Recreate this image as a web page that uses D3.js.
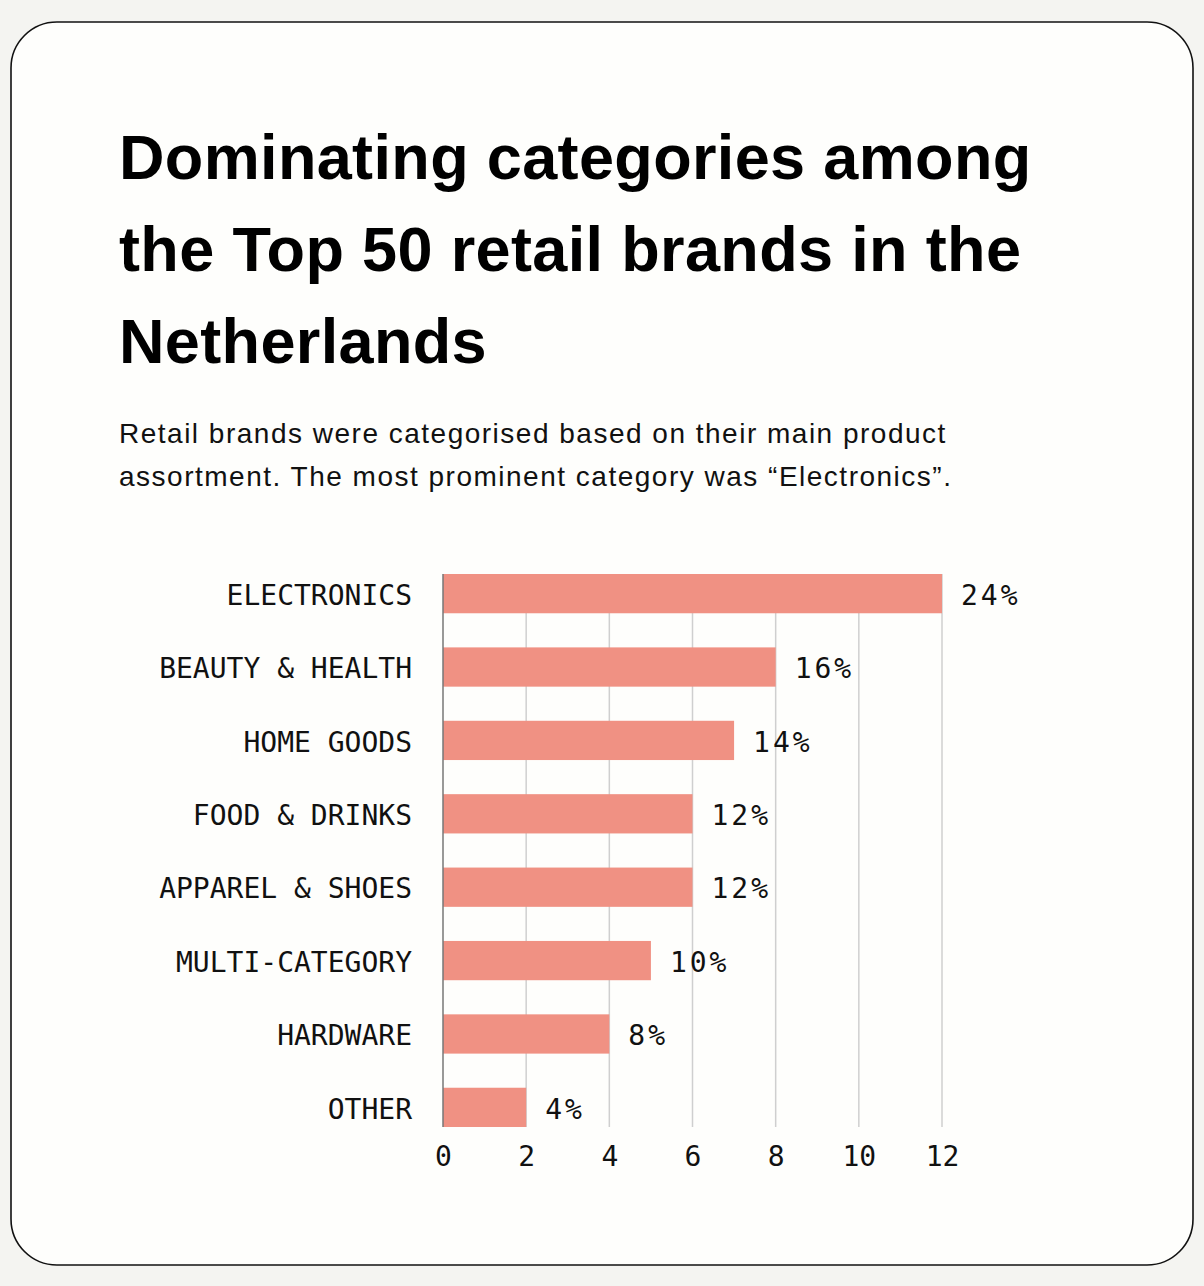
<!DOCTYPE html>
<html>
<head>
<meta charset="utf-8">
<script src="https://cdn.jsdelivr.net/npm/d3@7"></script>
<style>
  body { margin: 0; background: #f4f4f1; }
  svg { display: block; }
</style>
</head>
<body>
<script>
// data
var categories = ['ELECTRONICS', 'BEAUTY & HEALTH', 'HOME GOODS', 'FOOD & DRINKS',
                  'APPAREL & SHOES', 'MULTI-CATEGORY', 'HARDWARE', 'OTHER'];
var counts = [12, 8, 7, 6, 6, 5, 4, 2];
var shares = ['24%', '16%', '14%', '12%', '12%', '10%', '8%', '4%'];
var ticks = [0, 2, 4, 6, 8, 10, 12];

var titleLines = ['Dominating categories among', 'the Top 50 retail brands in the', 'Netherlands'];
var subtitleLines = ['Retail brands were categorised based on their main product',
                     'assortment. The most prominent category was \u201cElectronics\u201d.'];

var w = 1204;
var h = 1286;
var mono = '"DejaVu Sans Mono", monospace';
var sans = '"Liberation Sans", Arial, sans-serif';

var svg = d3.select('body')
    .append('svg')
    .attr('width', w)
    .attr('height', h);

// card
svg.append('rect')
    .attr('x', 11).attr('y', 22)
    .attr('width', 1182).attr('height', 1243)
    .attr('rx', 46)
    .attr('fill', '#fefefc')
    .attr('stroke', '#111')
    .attr('stroke-width', 1.6);

// title
svg.append('g').selectAll('text')
    .data(titleLines)
    .enter()
    .append('text')
    .attr('x', 119)
    .attr('y', (d, i) => 179 + i * 92)
    .attr('font-family', sans)
    .attr('font-size', '63px')
    .attr('font-weight', 'bold')
    .attr('letter-spacing', '0.35px')
    .attr('fill', '#000')
    .text(d => d);

svg.append('g').selectAll('text')
    .data(subtitleLines)
    .enter()
    .append('text')
    .attr('x', 119)
    .attr('y', (d, i) => 443 + i * 43)
    .attr('font-family', sans)
    .attr('font-size', '28px')
    .attr('letter-spacing', '1.5px')
    .attr('fill', '#111')
    .text(d => d);

var xScale = d3.scaleLinear()
    .domain([0, 12])
    .range([443, 942]);

var yScale = d3.scaleBand()
    .domain(categories)
    .range([574, 1127])
    .paddingInner(0.465)
    .paddingOuter(0);

// gridlines
svg.append('g').selectAll('line')
    .data(ticks.slice(1))
    .enter()
    .append('line')
    .attr('x1', d => xScale(d)).attr('x2', d => xScale(d))
    .attr('y1', 574).attr('y2', 1127)
    .attr('stroke', '#cfcfcf')
    .attr('stroke-width', 1.5);

// bars
svg.append('g').selectAll('rect')
    .data(counts)
    .enter()
    .append('rect')
    .attr('x', xScale(0))
    .attr('y', (d, i) => yScale(categories[i]))
    .attr('width', d => xScale(d) - xScale(0))
    .attr('height', yScale.bandwidth())
    .attr('fill', '#f09183');

// zero line
svg.append('line')
    .attr('x1', xScale(0)).attr('x2', xScale(0))
    .attr('y1', 574).attr('y2', 1127)
    .attr('stroke', '#777')
    .attr('stroke-width', 1.5);

// category labels
svg.append('g').selectAll('text')
    .data(categories)
    .enter()
    .append('text')
    .attr('x', 412)
    .attr('y', d => yScale(d) + yScale.bandwidth() / 2)
    .attr('dy', '0.4em')
    .attr('text-anchor', 'end')
    .attr('font-family', mono)
    .attr('font-size', '28px')
    .attr('fill', '#111')
    .text(d => d);

// value labels
svg.append('g').selectAll('text')
    .data(counts)
    .enter()
    .append('text')
    .attr('x', d => xScale(d) + 19)
    .attr('y', (d, i) => yScale(categories[i]) + yScale.bandwidth() / 2)
    .attr('dy', '0.4em')
    .attr('font-family', mono)
    .attr('font-size', '28px')
    .attr('letter-spacing', '3px')
    .attr('fill', '#111')
    .text((d, i) => shares[i]);

// x axis
var xAxis = d3.axisBottom(xScale)
    .tickValues(ticks)
    .tickSize(0)
    .tickPadding(0);

var ax = svg.append('g')
    .attr('transform', 'translate(0,1146)')
    .call(xAxis);
ax.select('.domain').remove();
ax.selectAll('text')
    .attr('dy', '0.71em')
    .attr('font-family', mono)
    .attr('font-size', '28px')
    .attr('fill', '#111');
</script>
</body>
</html>
